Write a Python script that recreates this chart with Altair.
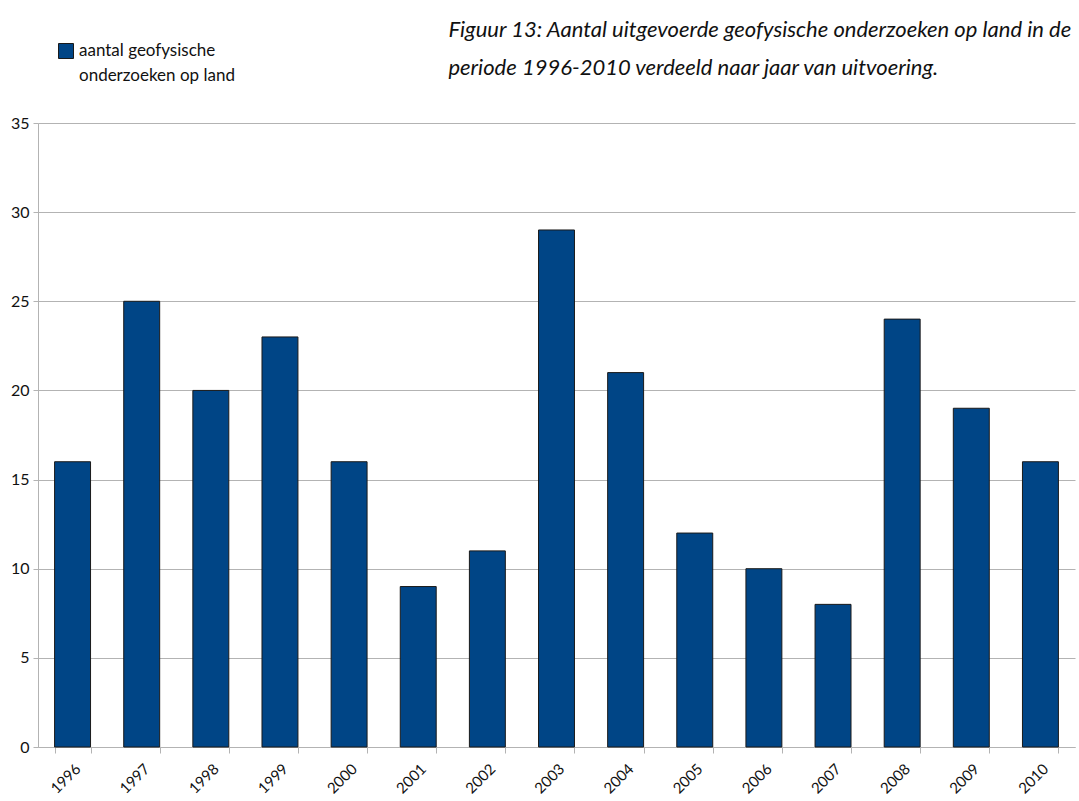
import altair as alt
import pandas as pd

# Survey counts per year
years = [str(y) for y in range(1996, 2011)]
counts = [16, 25, 20, 23, 16, 9, 11, 29, 21, 12, 10, 8, 24, 19, 16]
series_name = "aantal geofysische onderzoeken op land"
legend_lines = ["aantal geofysische", "onderzoeken op land"]
title_lines = [
    "Figuur 13: Aantal uitgevoerde geofysische onderzoeken op land in de",
    "periode 1996-2010 verdeeld naar jaar van uitvoering.",
]
y_ticks = [0, 5, 10, 15, 20, 25, 30, 35]

df = pd.DataFrame({"jaar": years, "aantal": counts, "reeks": [series_name] * len(years)})

FONT = "Lato"
GRID = "#b3b3b3"
BLUE = "#004586"

chart = (
    alt.Chart(df)
    .mark_bar(stroke="#1a1a1a", strokeWidth=1)
    .encode(
        x=alt.X(
            "jaar:N",
            sort=years,
            scale=alt.Scale(paddingInner=0.48, paddingOuter=0.24),
            axis=alt.Axis(
                title=None,
                labelAngle=315,
                labelAlign="right",
                labelBaseline="top",
                labelFontSize=15,
                labelPadding=8,
                labelColor="#111111",
                tickBand="extent",
                tickSize=6,
                tickColor=GRID,
                domainColor=GRID,
                grid=False,
            ),
        ),
        y=alt.Y(
            "aantal:Q",
            scale=alt.Scale(domain=[0, 35], nice=False),
            axis=alt.Axis(
                title=None,
                values=y_ticks,
                labelFontSize=16,
                labelPadding=4,
                labelColor="#111111",
                tickSize=5,
                tickColor=GRID,
                domainColor=GRID,
                grid=True,
                gridColor=GRID,
            ),
        ),
        color=alt.Color(
            "reeks:N",
            scale=alt.Scale(range=[BLUE]),
            legend=alt.Legend(
                # series name shown as a two-line legend title to the right of the swatch
                title=legend_lines,
                titleOrient="right",
                titleAnchor="start",
                titleBaseline="top",
                titleFontSize=17,
                titleFontWeight="normal",
                titleLineHeight=25,
                titleColor="#111111",
                titlePadding=3,
                titleLimit=400,
                orient="none",
                legendX=20,
                legendY=-80,
                symbolType="square",
                symbolSize=225,
                symbolStrokeColor="#1a1a1a",
                symbolStrokeWidth=1,
                labelExpr="''",
                labelOffset=0,
            ),
        ),
    )
    .properties(
        width=1037,
        height=624,
        autosize=alt.AutoSizeParams(type="none"),
        padding={"left": 38, "top": 123, "right": 4, "bottom": 54},
        title=alt.TitleParams(
            title_lines,
            anchor="start",
            dx=438,
            offset=-37,
            font=FONT,
            fontSize=22,
            fontStyle="italic",
            fontWeight="normal",
            lineHeight=38,
            color="#111111",
        ),
    )
    .configure(font=FONT)
    .configure_view(stroke=None)
    .configure_axis(labelFont=FONT)
    .configure_legend(labelFont=FONT, titleFont=FONT)
)

chart.save("out.html", embed_options={"renderer": "svg", "actions": False})
